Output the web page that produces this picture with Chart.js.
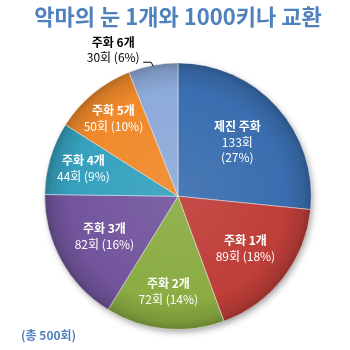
<!DOCTYPE html>
<html>
<head>
<meta charset="utf-8">
<script src="https://cdn.jsdelivr.net/npm/chart.js@4.4.0/dist/chart.umd.min.js"></script>
<style>
    html, body { margin: 0; padding: 0; background: #fff; }
</style>
</head>
<body>
<canvas id="pie-chart" width="350" height="350"></canvas>
<script>
// data
var labels = ['제진 주화', '주화 1개', '주화 2개', '주화 3개', '주화 4개', '주화 5개', '주화 6개'];
var counts = [133, 89, 72, 82, 44, 50, 30];
var percents = [27, 18, 14, 16, 9, 10, 6];
var titleText = '악마의 눈 1개와 1000키나 교환';
var totalText = '(총 500회)';

// styling
var colors = ['#3a6eb0', '#bf3e39', '#8aac42', '#73559d', '#36a1be', '#f0892b', '#8eaad9'];
var labelRadius = [0.6, 0.64, 0.72, 0.63, 0.74, 0.76];
var FONT = "'Noto Sans CJK KR', 'Noto Sans', sans-serif";

function shade(hex, amt) {
    var n = parseInt(hex.slice(1), 16);
    var r = (n >> 16) & 255, g = (n >> 8) & 255, b = n & 255;
    function f(c) {
        c = amt < 0 ? c * (1 + amt) : c + (255 - c) * amt;
        return Math.round(Math.max(0, Math.min(255, c)));
    }
    return 'rgb(' + f(r) + ',' + f(g) + ',' + f(b) + ')';
}

function sliceFill(context) {
    var chart = context.chart;
    var base = colors[context.dataIndex];
    var area = chart.chartArea;
    if (!area) {
        return base;
    }
    var cx = (area.left + area.right) / 2;
    var cy = (area.top + area.bottom) / 2;
    var r = Math.min(area.right - area.left, area.bottom - area.top) / 2;
    var grad = chart.ctx.createRadialGradient(cx, cy, 0, cx, cy, r);
    grad.addColorStop(0, shade(base, 0.08));
    grad.addColorStop(0.8, base);
    grad.addColorStop(0.94, shade(base, -0.12));
    grad.addColorStop(1, shade(base, -0.25));
    return grad;
}

var shadowPlugin = {
    id: 'pieShadow',
    beforeDatasetsDraw: function (chart) {
        var arc = chart.getDatasetMeta(0).data[0];
        if (!arc) return;
        var p = arc.getProps(['x', 'y', 'outerRadius'], true);
        var ctx = chart.ctx;
        ctx.save();
        ctx.shadowColor = 'rgba(0,0,0,0.4)';
        ctx.shadowBlur = 7;
        ctx.shadowOffsetX = 2;
        ctx.shadowOffsetY = 3;
        ctx.fillStyle = '#888';
        ctx.beginPath();
        ctx.arc(p.x, p.y, p.outerRadius - 1, 0, Math.PI * 2);
        ctx.fill();
        ctx.restore();
    }
};

var labelPlugin = {
    id: 'sliceLabels',
    afterDatasetsDraw: function (chart) {
        var ctx = chart.ctx;
        var arcs = chart.getDatasetMeta(0).data;
        ctx.save();
        ctx.textAlign = 'center';
        ctx.textBaseline = 'middle';
        arcs.forEach(function (arc, i) {
            var p = arc.getProps(['x', 'y', 'startAngle', 'endAngle', 'outerRadius'], true);
            var mid = (p.startAngle + p.endAngle) / 2;
            if (i === arcs.length - 1) {
                // small slice, label outside with leader line
                var px = p.x + Math.cos(mid) * (p.outerRadius - 1);
                var py = p.y + Math.sin(mid) * (p.outerRadius - 1);
                var ex = px - 2, ey = py - 4;
                var endX = ex - 8;
                ctx.strokeStyle = '#000';
                ctx.lineWidth = 1;
                ctx.beginPath();
                ctx.moveTo(px, py);
                ctx.lineTo(ex, ey);
                ctx.lineTo(endX, ey);
                ctx.stroke();
                ctx.fillStyle = '#000';
                ctx.font = 'bold 12px ' + FONT;
                ctx.fillText(labels[i], endX - 30, ey - 20);
                ctx.font = '12px ' + FONT;
                ctx.fillText(counts[i] + '회 (' + percents[i] + '%)', endX - 30, ey - 5);
                return;
            }
            var r = p.outerRadius * labelRadius[i];
            var x = p.x + Math.cos(mid) * r;
            var y = p.y + Math.sin(mid) * r;
            ctx.fillStyle = '#fff';
            if (i === 0) {
                ctx.font = 'bold 12px ' + FONT;
                ctx.fillText(labels[i], x, y - 16);
                ctx.font = '12px ' + FONT;
                ctx.fillText(counts[i] + '회', x, y);
                ctx.fillText('(' + percents[i] + '%)', x, y + 15);
            } else {
                ctx.font = 'bold 12px ' + FONT;
                ctx.fillText(labels[i], x, y - 8);
                ctx.font = '12px ' + FONT;
                ctx.fillText(counts[i] + '회 (' + percents[i] + '%)', x, y + 8);
            }
        });
        // total note, bottom left
        ctx.textAlign = 'left';
        ctx.fillStyle = '#4f81bd';
        ctx.font = 'bold 12px ' + FONT;
        ctx.fillText(totalText, 21, 335);
        ctx.restore();
    }
};

function drawPieChart() {
    var ctx = document.getElementById('pie-chart');

    new Chart(ctx, {
        type: 'pie',
        data: {
            labels: labels,
            datasets: [{
                data: counts,
                backgroundColor: sliceFill,
                borderColor: 'rgba(255,255,255,0.45)',
                borderWidth: 1
            }]
        },
        options: {
            responsive: false,
            animation: false,
            layout: {
                padding: { top: 0, bottom: 20, left: 10, right: 4 }
            },
            plugins: {
                legend: { display: false },
                tooltip: { enabled: false },
                title: {
                    display: true,
                    text: titleText,
                    color: '#4f81bd',
                    font: { family: FONT, size: 22, weight: 'bold' },
                    padding: { top: 3, bottom: 33 }
                }
            }
        },
        plugins: [shadowPlugin, labelPlugin]
    });
}

drawPieChart();
</script>
</body>
</html>
